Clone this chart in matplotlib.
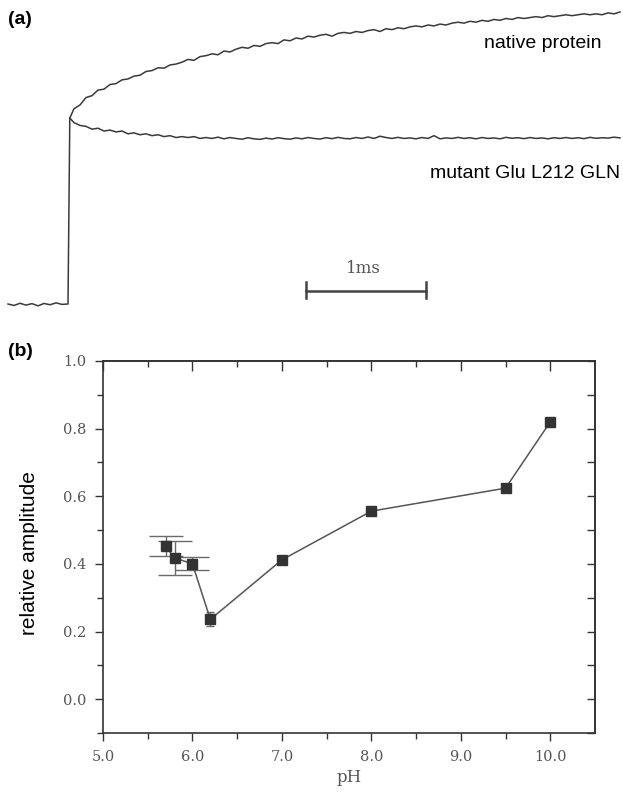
import numpy as np
from matplotlib import pyplot as plt

# ---- panel (a) traces, time in ms, signal normalised to the flash jump ----
base_t = [-0.5, -0.45, -0.4, -0.35, -0.3, -0.25, -0.2, -0.15, -0.1, -0.05, 0.0]
base_y = [0.0, -0.008, 0.004, -0.006, 0.002, -0.01, 0.003, -0.004, 0.006, -0.002, 0.0]

trace_t0 = 0.05
trace_dt = 0.05
native = [1.05, 1.07, 1.11, 1.12, 1.15, 1.155, 1.18, 1.185, 1.205, 1.21,
          1.225, 1.23, 1.25, 1.255, 1.27, 1.268, 1.285, 1.29, 1.30, 1.315,
          1.31, 1.33, 1.335, 1.345, 1.34, 1.36, 1.355, 1.37, 1.38, 1.375,
          1.39, 1.385, 1.40, 1.405, 1.40, 1.42, 1.415, 1.43, 1.425, 1.44,
          1.435, 1.445, 1.45, 1.44, 1.455, 1.46, 1.455, 1.465, 1.46, 1.47,
          1.475, 1.465, 1.48, 1.475, 1.485, 1.48, 1.49, 1.495, 1.49, 1.50,
          1.495, 1.505, 1.50, 1.51, 1.515, 1.51, 1.52, 1.515, 1.525, 1.52,
          1.53, 1.525, 1.535, 1.53, 1.54, 1.535, 1.54, 1.545, 1.54, 1.55,
          1.545, 1.55, 1.555, 1.55, 1.555, 1.56, 1.555, 1.56, 1.555, 1.565,
          1.56, 1.57]
mutant = [0.975, 0.96, 0.955, 0.94, 0.945, 0.93, 0.935, 0.925, 0.93, 0.915,
          0.92, 0.91, 0.915, 0.905, 0.91, 0.90, 0.905, 0.895, 0.90, 0.895,
          0.90, 0.89, 0.895, 0.89, 0.897, 0.888, 0.895, 0.89, 0.886, 0.894,
          0.888, 0.885, 0.892, 0.887, 0.894, 0.889, 0.886, 0.893, 0.888, 0.895,
          0.89, 0.887, 0.894, 0.889, 0.896, 0.89, 0.888, 0.895, 0.89, 0.898,
          0.89, 0.902, 0.895, 0.89, 0.896, 0.89, 0.893, 0.888, 0.895, 0.89,
          0.905, 0.888, 0.893, 0.89, 0.896, 0.89, 0.894, 0.888, 0.895, 0.89,
          0.893, 0.888, 0.896, 0.891, 0.894, 0.889, 0.895, 0.89, 0.893, 0.888,
          0.894, 0.89, 0.895, 0.89, 0.894, 0.889, 0.896, 0.891, 0.894, 0.892,
          0.897, 0.893]

# ---- panel (b) data ----
ph = [5.7, 5.8, 6.0, 6.2, 7.0, 8.0, 9.5, 10.0]
amp = [0.452, 0.418, 0.400, 0.236, 0.412, 0.556, 0.624, 0.820]
err_lo = [0.030, 0.051, 0.017, 0.020, 0.0, 0.0, 0.0, 0.0]
err_hi = [0.031, 0.050, 0.019, 0.023, 0.0, 0.0, 0.0, 0.0]

trace_color = '#3a3a3a'
grey_text = '#555555'

fig = plt.figure(figsize=(6.23, 7.94), dpi=100)

# panel (a)
ax1 = fig.add_axes([0, 1 - 320 / 794, 1, 320 / 794])
ax1.set_xlim(-68 / 120, (623 - 68) / 120)
ax1.set_ylim(-16 / 186, 304 / 186)
ax1.axis('off')

t_tr = trace_t0 + trace_dt * np.arange(len(native))
ax1.plot(base_t + [0.015], base_y + [1.0], color=trace_color, lw=1.1)
ax1.plot(np.r_[0.015, t_tr], np.r_[1.0, native], color=trace_color, lw=1.1)
ax1.plot(np.r_[0.015, t_tr], np.r_[1.0, mutant], color=trace_color, lw=1.1)

# 1 ms scale bar
ax1.plot([1.983, 2.983], [0.07, 0.07], color='#444444', lw=1.8)
ax1.plot([1.983, 1.983], [0.03, 0.12], color='#444444', lw=1.8)
ax1.plot([2.983, 2.983], [0.03, 0.12], color='#444444', lw=1.8)
ax1.text(2.46, 0.19, '1ms', family='DejaVu Serif', fontsize=12,
         color=grey_text, ha='center', va='center')

ax1.text(602 / 623, 1 - 43 / 320, 'native protein', transform=ax1.transAxes,
         family='Liberation Sans', fontsize=14, ha='right', va='center')
ax1.text(620 / 623, 1 - 173 / 320, 'mutant Glu L212 GLN', transform=ax1.transAxes,
         family='Liberation Sans', fontsize=14, ha='right', va='center')

fig.text(8 / 623, 1 - 19 / 794, '(a)', family='Liberation Sans', fontsize=14,
         fontweight='bold', va='center', ha='left')
fig.text(8 / 623, 1 - 352 / 794, '(b)', family='Liberation Sans', fontsize=14,
         fontweight='bold', va='center', ha='left')

# panel (b)
ax2 = fig.add_axes([103 / 623, 1 - 733 / 794, (595 - 103) / 623, (733 - 361) / 794])
ax2.set_xlim(5.0, 10.5)
ax2.set_ylim(-0.1, 1.0)

ph_a = np.array(ph)
amp_a = np.array(amp)
lo = np.array(err_lo)
hi = np.array(err_hi)

big = [0, 1, 2]
ax2.errorbar(ph_a[big], amp_a[big], yerr=[lo[big], hi[big]], fmt='none',
             ecolor='#6a6a6a', elinewidth=1.0, capsize=12, capthick=1.0)
small = [3]
ax2.errorbar(ph_a[small], amp_a[small], yerr=[lo[small], hi[small]], fmt='none',
             ecolor='#6a6a6a', elinewidth=1.0, capsize=3, capthick=1.0)
ax2.plot(ph, amp, color='#555555', lw=1.1, marker='s', markersize=7,
         markerfacecolor='#333333', markeredgecolor='#333333')

xmaj = [5, 6, 7, 8, 9, 10]
xmin = np.arange(5.5, 10.5, 1.0)
ymaj = [0.0, 0.2, 0.4, 0.6, 0.8, 1.0]
ymin = np.arange(-0.1, 1.0, 0.2)

ax2.set_xticks(xmaj)
ax2.set_xticklabels(['5.0', '6.0', '7.0', '8.0', '9.0', '10.0'])
ax2.set_xticks(xmin, minor=True)
ax2.set_yticks(ymaj)
ax2.set_yticklabels(['0.0', '0.2', '0.4', '0.6', '0.8', '1.0'])
ax2.set_yticks(ymin, minor=True)

for s in ax2.spines.values():
    s.set_color('#333333')
    s.set_linewidth(1.2)

ax2.tick_params(which='both', direction='out', color='#333333', width=1.0,
                labelcolor=grey_text, labelsize=10.5)
ax2.tick_params(which='major', length=6, pad=6)
ax2.tick_params(which='minor', length=4)
for lab in ax2.get_xticklabels() + ax2.get_yticklabels():
    lab.set_family('DejaVu Serif')

# top and right: ticks pointing inwards, no labels
top = ax2.secondary_xaxis('top')
top.set_xticks(xmaj)
top.set_xticks(xmin, minor=True)
top.tick_params(which='both', direction='in', color='#333333', width=1.0,
                labeltop=False)
top.tick_params(which='major', length=7)
top.tick_params(which='minor', length=4)
right = ax2.secondary_yaxis('right')
right.set_yticks(ymaj)
right.set_yticks(ymin, minor=True)
right.tick_params(which='both', direction='in', color='#333333', width=1.0,
                  length=6, labelright=False)
for sec in (top, right):
    for s in sec.spines.values():
        s.set_color('#333333')
        s.set_linewidth(1.2)

ax2.set_xlabel('pH', family='DejaVu Serif', fontsize=12, color=grey_text, labelpad=4)
fig.text(30 / 623, 1 - 553 / 794, 'relative amplitude', family='Liberation Sans',
         fontsize=15, rotation=90, ha='center', va='center')

plt.savefig('out.png', dpi=100)
